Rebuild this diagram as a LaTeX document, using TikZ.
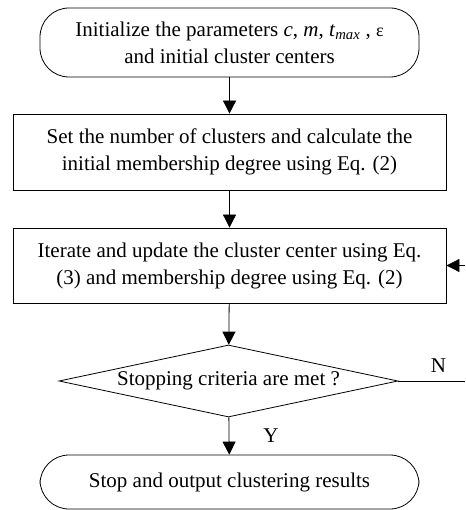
\documentclass[tikz,border=0pt]{standalone}
\usepackage{fontspec}
\setmainfont{Liberation Serif}
\usetikzlibrary{shapes.geometric,arrows.meta}
\begin{document}
\begin{tikzpicture}[x=1pt,y=-1pt,
  every node/.style={font=\fontsize{21}{27}\selectfont, align=center, inner sep=0pt},
  flowline/.style={line width=0.8pt},
  flowarrow/.style={flowline, -{Triangle[length=13pt,width=13pt]}},
  terminal/.style={draw, line width=0.8pt, rounded corners=29pt},
  process/.style={draw, line width=0.8pt, minimum width=433pt},
  decision/.style={draw, line width=0.8pt, diamond, aspect=4.7, minimum width=339pt, minimum height=72pt}]
\useasboundingbox (0,0) rectangle (465,510);

% start
\node[terminal, minimum width=379pt, minimum height=69pt] (start) at (229.5,42.5)
  {Initialize the parameters \textit{c}, \textit{m}, \textit{t}\textsubscript{\textit{max}} , {\fontsize{18}{27}\selectfont ε}\\and initial cluster centers};

% processing steps
\node[process, minimum height=76pt] (init) at (229.5,152)
  {Set the number of clusters and calculate the\\initial membership degree using Eq. (2)};
\node[process, minimum height=75pt] (iter) at (229.5,265.5)
  {Iterate and update the cluster center using Eq.\\(3) and membership degree using Eq. (2)};

% stopping test
\node[decision] (test) at (228.5,381) {Stopping criteria are met ?};

% end
\node[terminal, minimum width=379pt, minimum height=54pt] (stop) at (229.5,482)
  {Stop and output clustering results};

% loop ends
\coordinate (noend) at (465,381);
\coordinate (back) at (465,265.5);

\draw[flowarrow] (start) -- (init);
\draw[flowarrow] (init) -- (iter);
\draw[flowarrow] (iter) -- (test);
\draw[flowarrow] (test) -- node[right=34pt, pos=0.5] {Y} (stop);
\draw[flowline] (test.east) -- node[above=8pt, pos=0.6] {N} (noend);
\draw[flowarrow] (back) -- (iter.east);
\end{tikzpicture}
\end{document}
